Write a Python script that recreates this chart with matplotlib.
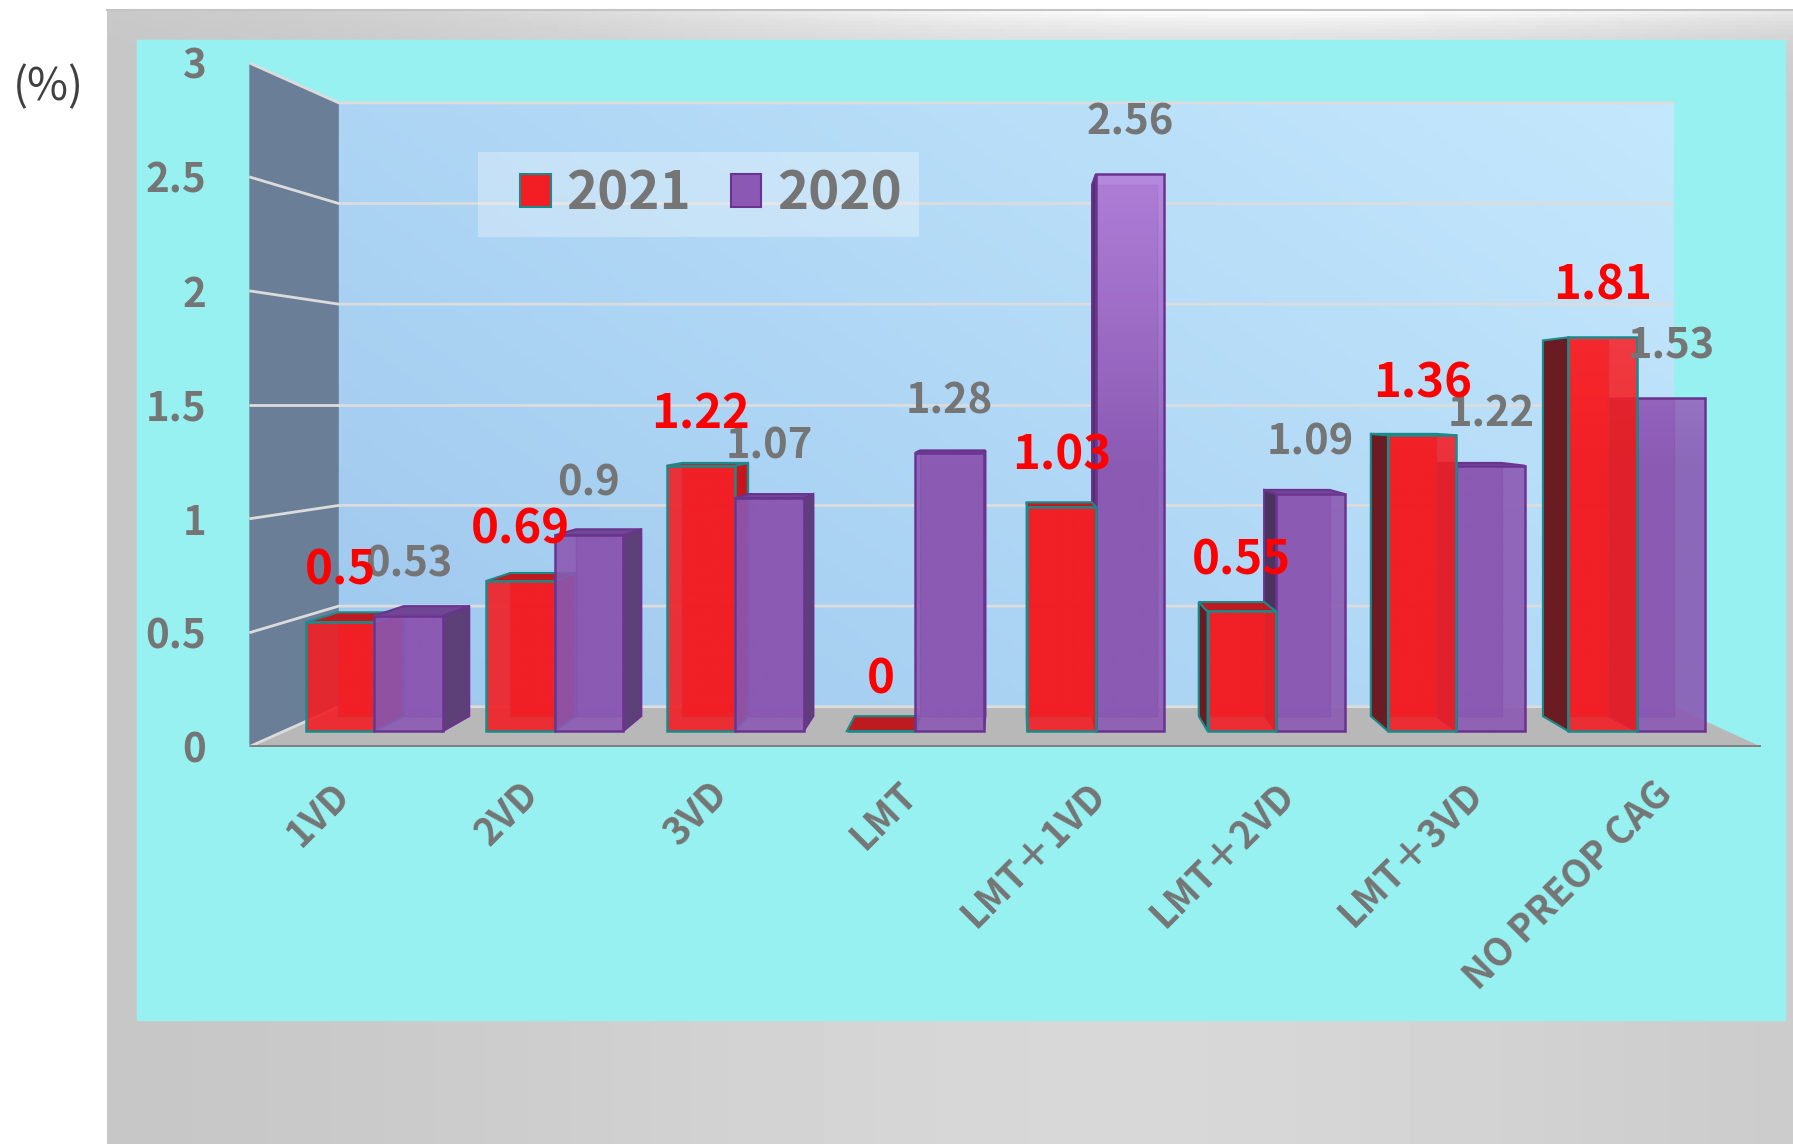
import numpy as np
import matplotlib.pyplot as plt
from matplotlib.patches import Polygon, Rectangle, Patch

categories = ['1VD', '2VD', '3VD', 'LMT', 'LMT＋1VD', 'LMT＋2VD', 'LMT＋3VD', 'NO PREOP CAG']
rate_2021 = [0.5, 0.69, 1.22, 0, 1.03, 0.55, 1.36, 1.81]
rate_2020 = [0.53, 0.9, 1.07, 1.28, 2.56, 1.09, 1.22, 1.53]
series_names = ['2021', '2020']
y_ticks = [0, 0.5, 1, 1.5, 2, 2.5, 3]

plt.rcParams['font.family'] = ['Noto Sans CJK JP', 'DejaVu Sans']

# fake 3D: data plane = front edge of the floor, depth z (0..1) shrinks toward a vanishing point
VX, VY, K = 4.05, 1.5, 0.1325
Z_FRONT, Z_BACK = 0.36, 0.74
BAR_W = 0.38
GREY = '#757575'

# colours per series: front, top, left side, right side, edge, label
styles = [
    dict(front='#F21E24', light='#FF3236', top='#BE1B20', left='#6B1C22', right='#C8141A',
         edge='#1A8A8A', label='#FF0000'),
    dict(front='#8B59B3', light='#B482DC', top='#6F4792', left='#4A345E', right='#5E4078',
         edge='#6A3390', label=GREY),
]


def proj(x, y, z):
    f = 1.0 / (1.0 + K * z)
    return (VX + (x - VX) * f, VY + (y - VY) * f)


def hex_rgb(h):
    return np.array([int(h[i:i + 2], 16) for i in (1, 3, 5)]) / 255


fig = plt.figure(figsize=(17.93, 11.44), dpi=100)

# grey frame + cyan chart area
bg = fig.add_axes([0, 0, 1, 1])
gx, gy = np.meshgrid(np.linspace(0, 1, 400), np.linspace(0, 1, 300))
shade = 0.77 + 0.075 * np.exp(-((gx - 0.6) / 0.4) ** 2) \
    + 0.15 * np.exp(-gy / 0.02) * np.exp(-((gx - 0.75) / 0.45) ** 2)
bg.imshow(shade, cmap='gray', vmin=0, vmax=1, extent=[107, 1793, 1144, 10],
          aspect='auto', zorder=0)
bg.plot([107, 1793], [10, 10], color='#C4C4C4', lw=1.5, zorder=1)
bg.add_patch(Rectangle((137, 40), 1648, 980, color='#97F1F0', zorder=2))
bg.set_xlim(0, 1793)
bg.set_ylim(1144, 0)
bg.axis('off')

fig.text(48 / 1793, 1 - 87 / 1144, '(%)', fontsize=32, color='#404040',
         ha='center', va='center')

ax = fig.add_axes([249.3 / 1793, 397.3 / 1144, 1511.7 / 1793, 683.8 / 1144])
ax.patch.set_alpha(0)
for sp in ax.spines.values():
    sp.set_visible(False)

n = len(categories)

# back wall with gradient
bx0, by0 = proj(0, 0, 1)
bx1, by1 = proj(n, 3, 1)
u, v = np.meshgrid(np.linspace(0, 1, 200), np.linspace(0, 1, 200))
t = (0.6 * u + 0.4 * v)[..., None]
c0 = np.array([158, 200, 238]) / 255
c1 = np.array([196, 232, 253]) / 255
ax.imshow(c0 + (c1 - c0) * t, extent=[bx0, bx1, by0, by1], origin='lower',
          aspect='auto', zorder=0.5)

# side wall and floor
ax.add_patch(Polygon([proj(0, 0, 0), proj(0, 3, 0), proj(0, 3, 1), proj(0, 0, 1)],
                     closed=True, fc='#6A7F97', ec='none', zorder=0.6))
ax.add_patch(Polygon([proj(0, 0, 0), proj(n, 0, 0), proj(n, 0, 1), proj(0, 0, 1)],
                     closed=True, fc='#B8B8B8', ec='none', zorder=0.6))

# gridlines on side wall + back wall
for tk in y_ticks:
    pts = [proj(0, tk, 0), proj(0, tk, 1), proj(n, tk, 1)]
    ax.plot([p[0] for p in pts], [p[1] for p in pts], color='#DCDCDC', lw=2,
            zorder=0.8, solid_capstyle='butt')
ax.plot([0, n], [0, 0], color='#7F7F7F', lw=3.5, zorder=0.9, solid_capstyle='butt')

# bars
bars = []
for i in range(n):
    for s, vals in enumerate([rate_2021, rate_2020]):
        x0 = i + 0.5 - BAR_W + s * BAR_W
        bars.append((x0, x0 + BAR_W, vals[i], s))
bars.sort(key=lambda b: -abs((b[0] + b[1]) / 2 - VX))

zo = 2
for x0, x1, val, s in bars:
    st = styles[s]
    back = [proj(x0, 0, Z_BACK), proj(x1, 0, Z_BACK), proj(x1, val, Z_BACK), proj(x0, val, Z_BACK)]
    ax.add_patch(Polygon(back, closed=True, fc=st['front'], ec=st['edge'], lw=1,
                         alpha=0.9, zorder=zo))
    if x0 > VX:
        side = [proj(x0, 0, Z_FRONT), proj(x0, 0, Z_BACK), proj(x0, val, Z_BACK), proj(x0, val, Z_FRONT)]
        ax.add_patch(Polygon(side, closed=True, fc=st['left'], ec=st['edge'], lw=1.5, zorder=zo + 0.1))
    if x1 < VX:
        side = [proj(x1, 0, Z_FRONT), proj(x1, 0, Z_BACK), proj(x1, val, Z_BACK), proj(x1, val, Z_FRONT)]
        ax.add_patch(Polygon(side, closed=True, fc=st['right'], ec=st['edge'], lw=1.5, zorder=zo + 0.1))
    if val < VY:
        top = [proj(x0, val, Z_FRONT), proj(x1, val, Z_FRONT), proj(x1, val, Z_BACK), proj(x0, val, Z_BACK)]
        ax.add_patch(Polygon(top, closed=True, fc=st['top'], ec=st['edge'], lw=1.5, zorder=zo + 0.2))
    front = [proj(x0, 0, Z_FRONT), proj(x1, 0, Z_FRONT), proj(x1, val, Z_FRONT), proj(x0, val, Z_FRONT)]
    if val > 0:
        # vertical gradient on the front face, lighter toward the top of the plot
        hy = np.linspace(0, val, 100)
        tt = np.clip((hy - 1.2) / 1.4, 0, 1)[:, None, None]
        ca, cb = hex_rgb(st['front']), hex_rgb(st['light'])
        img = ca + (cb - ca) * tt
        fx0, fy0 = front[0]
        fx1, fy1 = front[2]
        ax.imshow(img, extent=[fx0, fx1, fy0, fy1], origin='lower', aspect='auto',
                  alpha=0.9, zorder=zo + 0.3, interpolation='bilinear')
    ax.add_patch(Polygon(front, closed=True, fc='none', ec=st['edge'], lw=1.8, zorder=zo + 0.4))
    zo += 1

# data labels (2021 drawn above 2020)
for x0, x1, val, s in bars:
    st = styles[s]
    ax.annotate(f'{val:g}', xy=proj((x0 + x1) / 2, val, Z_FRONT), xytext=(0, 37),
                textcoords='offset points', ha='center', va='center',
                fontsize=34 if s == 0 else 30, fontweight='bold', color=st['label'],
                zorder=60 if s == 0 else 50, annotation_clip=False)

ax.set_xlim(0, n)
ax.set_ylim(0, 3)
ax.set_yticks(y_ticks)
ax.set_yticklabels([f'{tk:g}' for tk in y_ticks], fontweight='bold')
ax.tick_params(axis='y', length=0, pad=31, labelsize=29, labelcolor=GREY)
ax.set_xticks([i + 0.5 for i in range(n)])
ax.set_xticklabels(categories, rotation=45, ha='right', va='center',
                   rotation_mode='anchor', fontweight='bold')
ax.tick_params(axis='x', length=0, pad=30, labelsize=27, labelcolor=GREY)

# legend
ax.add_patch(Rectangle((478 / 1793, 1 - 237 / 1144), 441 / 1793, 85 / 1144,
                       transform=fig.transFigure, fc='white', alpha=0.3, ec='none', zorder=1))
handles = [Patch(fc=st['front'], ec=st['edge'], lw=1.5) for st in styles]
ax.legend(handles, series_names, ncol=2, loc='center left',
          bbox_to_anchor=(520 / 1793, 1 - 194 / 1144), bbox_transform=fig.transFigure,
          frameon=False, borderpad=0, borderaxespad=0, prop={'size': 38, 'weight': 'bold'},
          labelcolor=GREY, handlelength=0.58, handleheight=0.58,
          handletextpad=0.3, columnspacing=0.75)

fig.savefig('out.png', dpi=100)
